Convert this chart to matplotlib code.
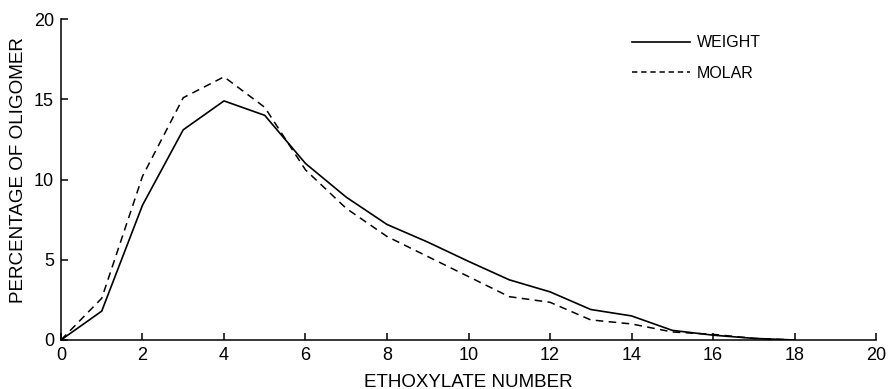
import matplotlib
matplotlib.use("Agg")
import matplotlib.pyplot as plt

plt.rcParams['font.family'] = ['Liberation Sans', 'DejaVu Sans']

ethoxylate = [0, 1, 2, 3, 4, 5, 6, 7, 8, 9, 10, 11, 12, 13, 14, 15, 16, 17, 18]
weight = [0, 1.8, 8.4, 13.1, 14.9, 14.0, 11.0, 8.9, 7.2, 6.1, 4.9, 3.75, 3.0, 1.9, 1.5, 0.6, 0.3, 0.1, 0]
molar = [0, 2.6, 10.2, 15.1, 16.4, 14.5, 10.6, 8.2, 6.45, 5.2, 3.95, 2.7, 2.35, 1.25, 1.0, 0.5, 0.35, 0.1, 0]

xticks = [0, 2, 4, 6, 8, 10, 12, 14, 16, 18, 20]
yticks = [0, 5, 10, 15, 20]

fig = plt.figure(figsize=(8.89, 3.89), dpi=100)
ax = fig.add_axes([0.0686, 0.126, 0.9168, 0.825])

ax.plot(ethoxylate, weight, color='black', lw=1.2, label='WEIGHT')
ax.plot(ethoxylate, molar, color='black', lw=1.1, dashes=(5, 3.5), label='MOLAR')

ax.set_xlim(0, 20)
ax.set_ylim(0, 20)
ax.set_xticks(xticks)
ax.set_yticks(yticks)
for s in ['top', 'right']:
    ax.spines[s].set_visible(False)
for s in ['left', 'bottom']:
    ax.spines[s].set_linewidth(1.1)
ax.tick_params(direction='in', length=5, width=1.1, labelsize=13, pad=5)

ax.set_xlabel('ETHOXYLATE NUMBER', fontsize=13.5, labelpad=7)
ax.set_ylabel('PERCENTAGE OF OLIGOMER', fontsize=13.6)
ax.yaxis.set_label_coords(-0.042, 0.53)

leg = ax.legend(loc='upper left', bbox_to_anchor=(0.701, 0.95), frameon=False,
                fontsize=11.5, handlelength=3.6, handletextpad=0.45, labelspacing=1.0,
                borderpad=0, borderaxespad=0)
leg.get_lines()[1].set_dashes((3.5, 2.5))

fig.savefig('out.png', dpi=100)
